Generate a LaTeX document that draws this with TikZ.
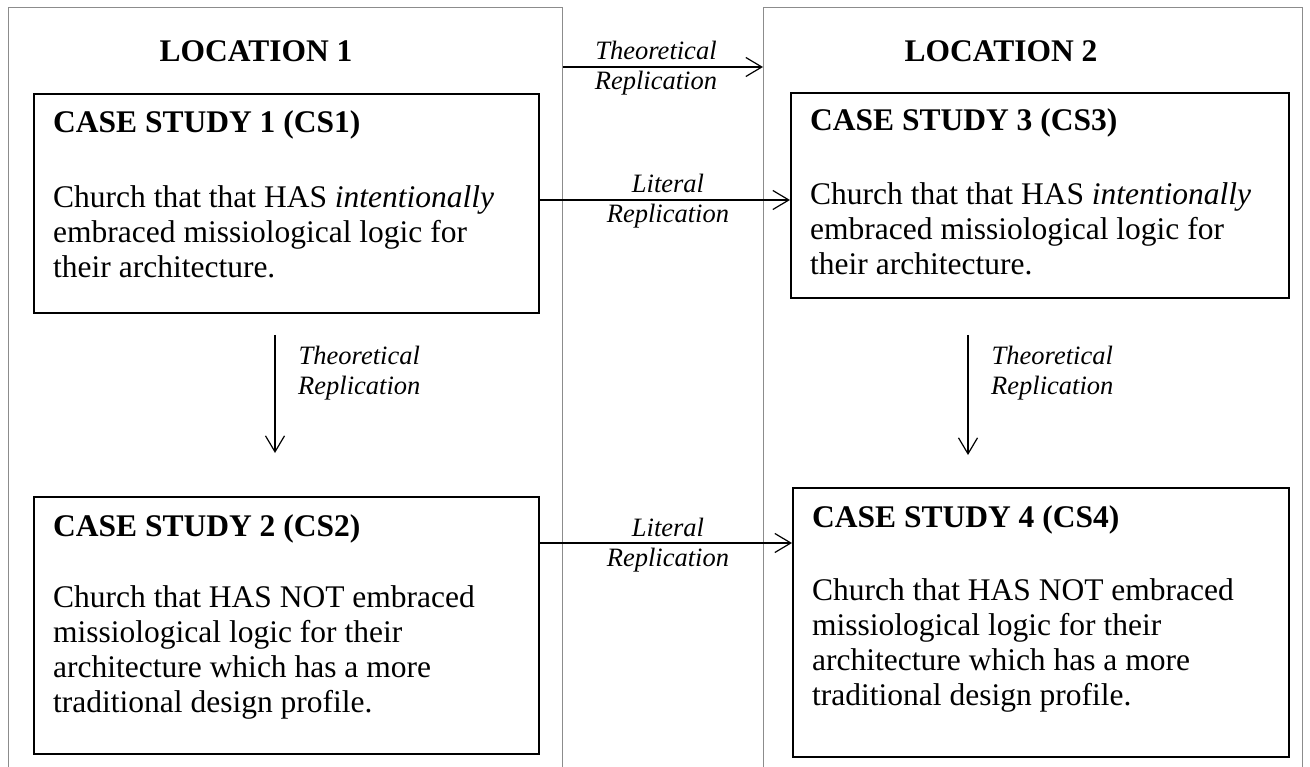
\documentclass[tikz,border=0pt]{standalone}
\usepackage{fontspec}
\setmainfont{Liberation Serif}
\usetikzlibrary{arrows.meta,calc}
\begin{document}
\begin{tikzpicture}[x=1pt,y=-1pt,
  frame/.style={draw=black!45, line width=0.9pt, rectangle, inner sep=0pt, anchor=north west},
  casebox/.style={draw=black, line width=2pt, rectangle, inner sep=0pt, anchor=north west},
  title/.style={font=\fontsize{31.5}{35}\selectfont\bfseries, inner sep=0pt, anchor=base},
  head/.style={font=\fontsize{31.5}{35}\selectfont\bfseries, inner sep=0pt, anchor=base west},
  body/.style={font=\fontsize{31.5}{35}\selectfont, inner sep=0pt, anchor=base west, align=left},
  lbl/.style={font=\fontsize{26.5}{30}\selectfont\itshape, inner sep=0pt, align=center},
  arr/.style={-{Straight Barb[length=16pt,width=19pt]}, line width=1.2pt}
]
\useasboundingbox[fill=white] (0,0) rectangle (1310,767);

% the two locations (open below the page edge)
\node[frame, minimum width=554pt, minimum height=800pt] (loc1) at (8,7) {};
\node[frame, minimum width=539pt, minimum height=800pt] (loc2) at (763,7) {};
\node[title] (t1) at (256,62) {LOCATION 1};
\node[title] (t2) at (1001,62) {LOCATION 2};

% case study boxes
\node[casebox, minimum width=505pt, minimum height=219pt] (cs1) at (33,93) {};
\node[casebox, minimum width=498pt, minimum height=205pt] (cs3) at (790,92) {};
\node[casebox, minimum width=505pt, minimum height=257pt] (cs2) at (33,496) {};
\node[casebox, minimum width=496pt, minimum height=269pt] (cs4) at (792,487) {};

% case study texts (body nodes are placed by the baseline of their last line)
\node[head] (h1) at ($(cs1.north west)+(20,40)$) {CASE STUDY 1 (CS1)};
\node[body] (b1) at ($(cs1.north west)+(20,184.5)$) {Church that that HAS \textit{intentionally}\\embraced missiological logic for\\their architecture.};
\node[head] (h3) at ($(cs3.north west)+(20,39)$) {CASE STUDY 3 (CS3)};
\node[body] (b3) at ($(cs3.north west)+(20,183)$) {Church that that HAS \textit{intentionally}\\embraced missiological logic for\\their architecture.};
\node[head] (h2) at ($(cs2.north west)+(20,40)$) {CASE STUDY 2 (CS2)};
\node[body] (b2) at ($(cs2.north west)+(20,216)$) {Church that HAS NOT embraced\\missiological logic for their\\architecture which has a more\\traditional design profile.};
\node[head] (h4) at ($(cs4.north west)+(20,40)$) {CASE STUDY 4 (CS4)};
\node[body] (b4) at ($(cs4.north west)+(20,218)$) {Church that HAS NOT embraced\\missiological logic for their\\architecture which has a more\\traditional design profile.};

% replication arrows
\coordinate (v1) at (275,335);
\coordinate (v1e) at (275,453);
\coordinate (v3) at (968,335);
\coordinate (v3e) at (968,455);
\draw[arr] (loc1.east |- 0,67) -- (loc2.west |- 0,67);
\draw[arr] (cs1.east |- 0,200) -- (cs3.west |- 0,200);
\draw[arr] (cs2.east |- 0,543) -- (cs4.west |- 0,543);
\draw[arr] (v1) -- (v1e);
\draw[arr] (v3) -- (v3e);

% replication labels (placed by the baseline of their second line)
\node[lbl, anchor=base] (r1) at (656,90) {Theoretical\\Replication};
\node[lbl, anchor=base] (r2) at (668,223) {Literal\\Replication};
\node[lbl, anchor=base] (r3) at (668,566) {Literal\\Replication};
\node[lbl, anchor=base west] (r4) at (298,395) {Theoretical\\Replication};
\node[lbl, anchor=base west] (r5) at (991,395) {Theoretical\\Replication};
\end{tikzpicture}
\end{document}
